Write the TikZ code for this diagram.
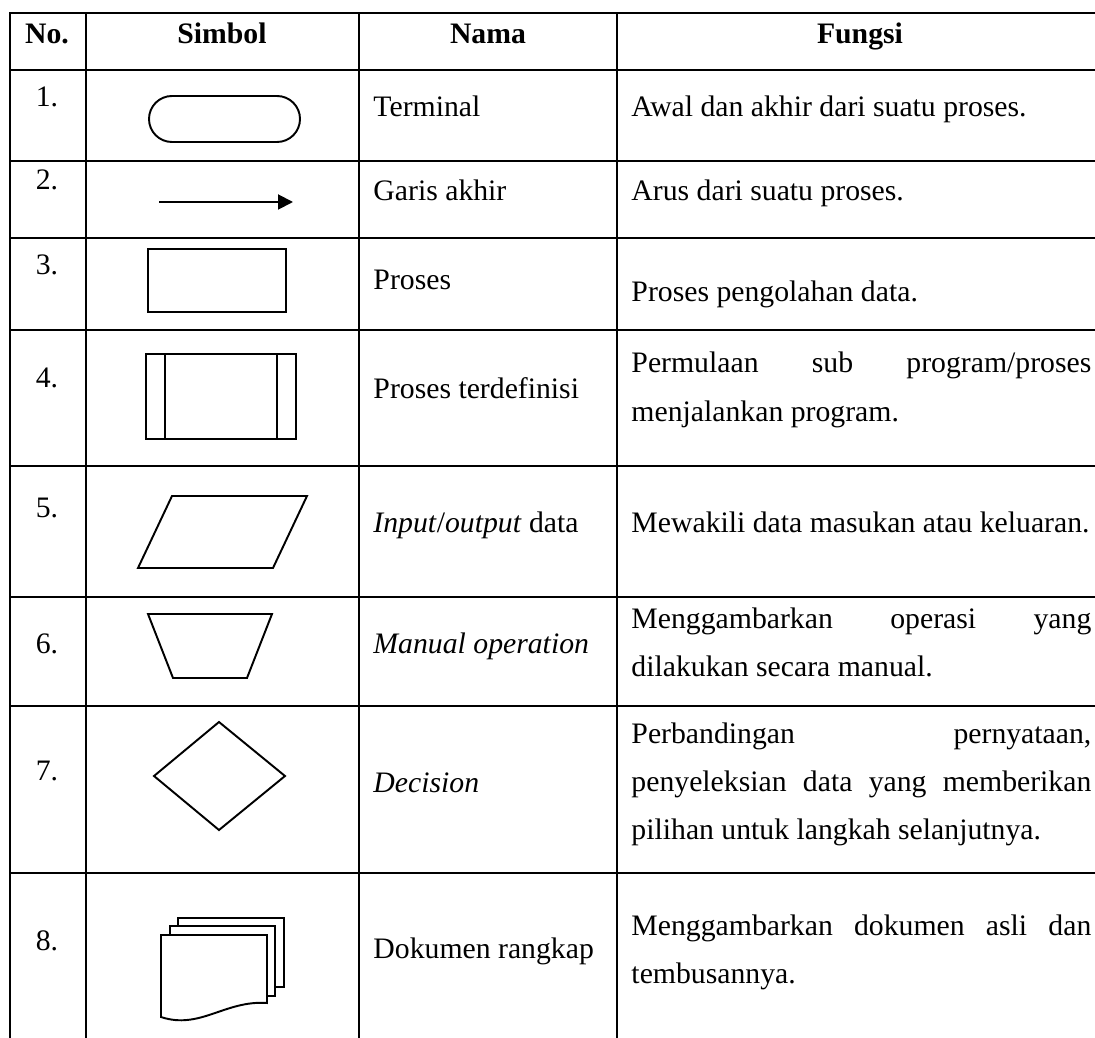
\documentclass[tikz,border=0pt]{standalone}
\usepackage{fontspec}
\setmainfont{Liberation Serif}
\usetikzlibrary{arrows.meta,positioning}
\tikzset{%
        font = \fontsize{12.3}{19.9}\selectfont,
        inner sep = 0pt
}
\tikzstyle{garis}=[
    draw = black,
    line width = 1.2pt
]
\tikzstyle{simbol}=[
    draw = black,
    line width = 0.8pt
]
\tikzstyle{kepala}=[anchor = base, font = \fontsize{12.3}{19.9}\selectfont\bfseries]
\tikzstyle{nomor}=[anchor = base]
\tikzstyle{nama}=[anchor = base west]
\tikzstyle{fungsi}=[anchor = base west]
\newcommand{\teksfungsi}[1]{\parbox[t]{190.3pt}{\hyphenpenalty=10000\tolerance=10000 #1}}

\begin{document}
\begin{tikzpicture}[x=0.4138pt, y=-0.4138pt]
        \useasboundingbox (0,0) rectangle (1095,1038);
        % garis tabel
        \draw[garis] (10,1040) -- (10,13) -- (1096,13);
        \foreach \y in {70,161,238,330,466,597,706,873}
            \draw[garis] (10,\y) -- (1096,\y);
        \foreach \x in {86,359,617}
            \draw[garis] (\x,13) -- (\x,1040);
        % kepala tabel
        \node[kepala] (hno) at (47,44) {No.};
        \node[kepala] (hsimbol) at (222,44) {Simbol};
        \node[kepala] (hnama) at (488,44) {Nama};
        \node[kepala] (hfungsi) at (860,44) {Fungsi};
        % nomor
        \foreach \n/\y in {1/107,2/190,3/275,4/388,5/517,6/653,7/780,8/950}
            \node[nomor] (no\n) at (47,\y) {\n.};
        % nama
        \node[nama] (nama1) at (373,117) {Terminal};
        \node[nama] (nama2) at (373,201) {Garis akhir};
        \node[nama] (nama3) at (373,290) {Proses};
        \node[nama] (nama4) at (373,399) {Proses terdefinisi};
        \node[nama] (nama5) at (373,532) {\textit{Input}/\textit{output} data};
        \node[nama] (nama6) at (373,653) {\textit{Manual operation}};
        \node[nama] (nama7) at (373,792) {\textit{Decision}};
        \node[nama] (nama8) at (373,958) {Dokumen rangkap};
        % fungsi
        \node[fungsi] (fungsi1) at (631,117) {\teksfungsi{Awal dan akhir dari suatu proses.}};
        \node[fungsi] (fungsi2) at (631,201) {\teksfungsi{Arus dari suatu proses.}};
        \node[fungsi] (fungsi3) at (631,302) {\teksfungsi{Proses pengolahan data.}};
        \node[fungsi] (fungsi4) at (631,373) {\teksfungsi{Permulaan sub program/proses\linebreak menjalankan program.}};
        \node[fungsi] (fungsi5) at (631,532) {\teksfungsi{Mewakili data masukan atau keluaran.}};
        \node[fungsi] (fungsi6) at (631,628) {\teksfungsi{Menggambarkan operasi yang\linebreak dilakukan secara manual.}};
        \node[fungsi] (fungsi7) at (631,743) {\teksfungsi{Perbandingan pernyataan,\linebreak penyeleksian data yang memberikan\linebreak pilihan untuk langkah selanjutnya.}};
        \node[fungsi] (fungsi8) at (631,935) {\teksfungsi{Menggambarkan dokumen asli dan\linebreak tembusannya.}};
        % simbol
        \draw[simbol, rounded corners=9.5pt] (149,96) rectangle (300,142);
        \coordinate (awal) at (159,202);
        \coordinate (akhir) at (293,202);
        \draw[simbol, -{Triangle[length=6.2pt, width=6.2pt]}] (awal) -- (akhir);
        \draw[simbol] (148,249) rectangle (286,312);
        \draw[simbol] (146,354) rectangle (296,439);
        \draw[simbol] (165,354) -- (165,439);
        \draw[simbol] (277,354) -- (277,439);
        \draw[simbol] (172,496) -- (307,496) -- (273,568) -- (138,568) -- cycle;
        \draw[simbol] (148,614) -- (272,614) -- (247,678) -- (173,678) -- cycle;
        \draw[simbol] (219,722) -- (285,776) -- (219,830) -- (154,776) -- cycle;
        \draw[simbol] (178,926) -- (178,918) -- (284,918) -- (284,987) -- (275,987);
        \draw[simbol] (170,935) -- (170,926) -- (275,926) -- (275,996) -- (267,996);
        \draw[simbol] (161,1017) -- (161,935) -- (267,935) -- (267,1003)
            .. controls (225,1000) and (200,1030) .. (161,1017) -- cycle;
    \end{tikzpicture}
\end{document}
